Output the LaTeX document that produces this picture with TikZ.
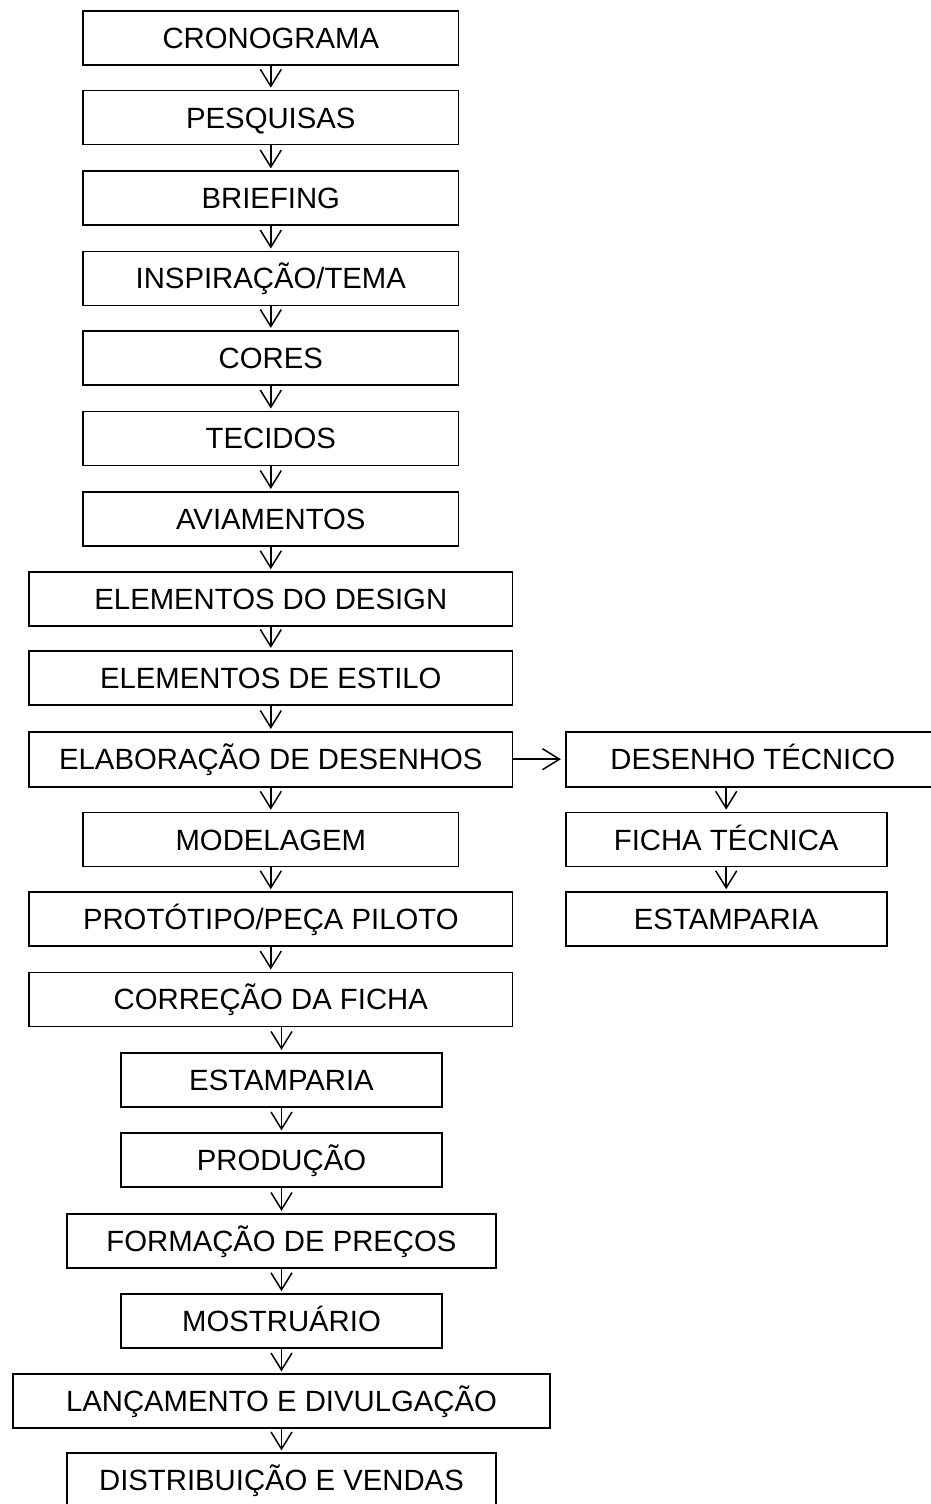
\documentclass[tikz,border=0pt]{standalone}
\usepackage{fontspec}
\setmainfont{Liberation Sans}
\usetikzlibrary{arrows.meta}
\tikzset{
  box/.style={draw=black, line width=1.6pt, inner sep=0pt, minimum height=54pt,
    text height=21pt, text depth=0pt, font=\fontsize{29.3}{35}\selectfont},
  wA/.style={box, minimum width=375.6pt},
  wB/.style={box, minimum width=483.5pt},
  wC/.style={box, minimum width=320.7pt},
  wD/.style={box, minimum width=429pt},
  wE/.style={box, minimum width=537.2pt},
  wR/.style={box, minimum width=321pt},
  wRD/.style={box, minimum width=394.3pt},
  arr/.style={line width=1.5pt, -{Straight Barb[length=17pt,width=21pt]}, shorten >=2pt}
}
\begin{document}
\begin{tikzpicture}[x=1pt,y=-1pt]
\useasboundingbox (0,0) rectangle (930,1504);
% upper column
\node[wA] (cro) at (270.8,38) {CRONOGRAMA};
\node[wA] (pes) at (270.8,117.5) {PESQUISAS};
\node[wA] (bri) at (270.8,198.2) {BRIEFING};
\node[wA] (ins) at (270.8,278.3) {INSPIRAÇÃO/TEMA};
\node[wA] (cor) at (270.8,357.7) {CORES};
\node[wA] (tec) at (270.8,438.3) {TECIDOS};
\node[wA] (avi) at (270.8,518.7) {AVIAMENTOS};
\node[wB] (eld) at (270.8,599) {ELEMENTOS DO DESIGN};
\node[wB] (ele) at (270.8,677.7) {ELEMENTOS DE ESTILO};
\node[wB, minimum height=55pt] (ela) at (270.8,759.2) {ELABORAÇÃO DE DESENHOS};
\node[wA] (mod) at (270.8,839.5) {MODELAGEM};
\node[wB] (pro) at (270.8,919) {PROTÓTIPO/PEÇA PILOTO};
\node[wB] (cfi) at (270.8,999.3) {CORREÇÃO DA FICHA};
% lower column
\node[wC] (est) at (281.5,1079.7) {ESTAMPARIA};
\node[wC] (prd) at (281.5,1160.2) {PRODUÇÃO};
\node[wD] (for) at (281.5,1240.7) {FORMAÇÃO DE PREÇOS};
\node[wC] (mos) at (281.5,1321) {MOSTRUÁRIO};
\node[wE] (lan) at (281.5,1401.2) {LANÇAMENTO E DIVULGAÇÃO};
\node[wD] (dis) at (281.5,1480.2) {DISTRIBUIÇÃO E VENDAS};
% right column
\node[wRD, minimum height=55pt] (des) at (762.85,759.2) {\hspace*{-20pt}DESENHO TÉCNICO};
\node[wR] (fic) at (726.2,839.5) {FICHA TÉCNICA};
\node[wR] (es2) at (726.2,919) {ESTAMPARIA};
% connectors
\draw[arr] (cro.south) -- (pes.north);
\draw[arr] (pes.south) -- (bri.north);
\draw[arr] (bri.south) -- (ins.north);
\draw[arr] (ins.south) -- (cor.north);
\draw[arr] (cor.south) -- (tec.north);
\draw[arr] (tec.south) -- (avi.north);
\draw[arr] (avi.south) -- (eld.north);
\draw[arr] (eld.south) -- (ele.north);
\draw[arr] (ele.south) -- (ela.north);
\draw[arr] (ela.south) -- (mod.north);
\draw[arr] (mod.south) -- (pro.north);
\draw[arr] (pro.south) -- (cfi.north);
\draw[arr] (est.north |- cfi.south) -- (est.north);
\draw[arr] (est.south) -- (prd.north);
\draw[arr] (prd.south) -- (for.north);
\draw[arr] (for.south) -- (mos.north);
\draw[arr] (mos.south) -- (lan.north);
\draw[arr] (lan.south) -- (dis.north);
\draw[arr, shorten >=4pt] (ela.east) -- (des.west);
\draw[arr] (fic.north |- des.south) -- (fic.north);
\draw[arr] (fic.south) -- (es2.north);
\end{tikzpicture}
\end{document}
